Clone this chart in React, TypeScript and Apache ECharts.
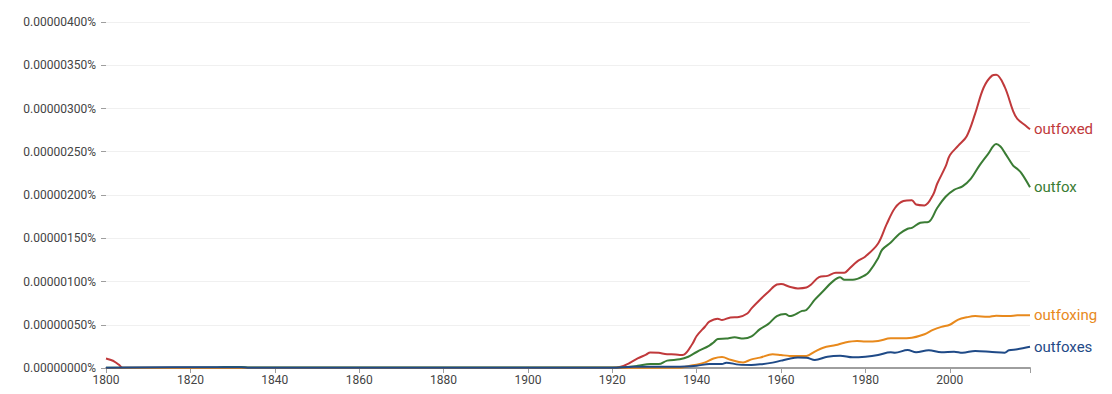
import React, { useEffect, useRef } from "react";
import * as echarts from "echarts";

// values in units of 0.0000001 %
const UNIT = 1e-7;
const xTickYears = [1800, 1820, 1840, 1860, 1880, 1900, 1920, 1940, 1960, 1980, 2000];

const outfoxedPts: [number, number][] = [
  [1800, 1.1], [1801, 0.95], [1802, 0.75], [1803, 0.4], [1804, 0.02], [1920, 0.02],
  [1922, 0.15], [1924, 0.55], [1926, 1.1], [1928, 1.55], [1929, 1.8], [1931, 1.75],
  [1933, 1.6], [1934, 1.6], [1936, 1.5], [1937, 1.55], [1939, 2.8], [1940, 3.7],
  [1942, 4.8], [1943, 5.35], [1945, 5.7], [1946, 5.55], [1948, 5.85], [1950, 5.9],
  [1952, 6.3], [1953, 6.9], [1955, 7.9], [1957, 8.8], [1959, 9.65], [1960, 9.7],
  [1962, 9.4], [1964, 9.2], [1966, 9.3], [1967, 9.6], [1969, 10.5], [1971, 10.65],
  [1973, 11.0], [1975, 11.0], [1976, 11.4], [1978, 12.3], [1980, 12.9], [1983, 14.4],
  [1985, 16.6], [1987, 18.5], [1989, 19.3], [1991, 19.4], [1992, 18.9], [1994, 18.8],
  [1996, 20.0], [1997, 21.3], [1999, 23.3], [2000, 24.6], [2002, 25.7], [2004, 26.8],
  [2006, 29.4], [2008, 32.4], [2010, 33.8], [2011, 33.9], [2013, 32.5], [2015, 29.7],
  [2016, 28.8], [2018, 28.0], [2019, 27.6],
];

const outfoxPts: [number, number][] = [
  [1800, 0.02], [1826, 0.05], [1828, 0.12], [1832, 0.12], [1834, 0.05], [1920, 0.05],
  [1923, 0.1], [1926, 0.25], [1929, 0.45], [1931, 0.45], [1933, 0.85], [1936, 1.0],
  [1938, 1.3], [1940, 1.85], [1943, 2.6], [1944, 2.95], [1945, 3.35], [1947, 3.4],
  [1949, 3.55], [1951, 3.4], [1953, 3.65], [1955, 4.5], [1957, 5.1], [1959, 6.0],
  [1961, 6.25], [1962, 6.0], [1965, 6.6], [1966, 6.7], [1968, 7.9], [1970, 8.9],
  [1972, 9.9], [1974, 10.5], [1975, 10.2], [1977, 10.2], [1980, 10.75], [1981, 11.2],
  [1983, 12.7], [1984, 13.7], [1986, 14.5], [1988, 15.5], [1990, 16.1], [1991, 16.2],
  [1993, 16.8], [1995, 16.9], [1997, 18.5], [1999, 19.8], [2001, 20.6], [2003, 21.0],
  [2005, 21.9], [2007, 23.4], [2009, 24.7], [2011, 25.9], [2012, 25.6], [2013, 24.9],
  [2015, 23.4], [2016, 23.0], [2017, 22.5], [2019, 20.9],
];

const outfoxingPts: [number, number][] = [
  [1800, 0.0], [1936, 0.02], [1938, 0.2], [1942, 0.65], [1944, 1.1], [1946, 1.27],
  [1948, 0.95], [1950, 0.7], [1951, 0.65], [1953, 1.0], [1955, 1.2], [1958, 1.6],
  [1960, 1.5], [1962, 1.4], [1964, 1.39], [1966, 1.4], [1968, 1.9], [1970, 2.35],
  [1973, 2.65], [1975, 2.93], [1978, 3.12], [1980, 3.05], [1983, 3.12], [1986, 3.43],
  [1988, 3.43], [1991, 3.5], [1994, 3.9], [1996, 4.4], [1998, 4.75], [2000, 5.0],
  [2002, 5.6], [2004, 5.86], [2006, 6.0], [2009, 5.93], [2011, 6.05], [2014, 6.0],
  [2016, 6.09], [2019, 6.1],
];

const outfoxesPts: [number, number][] = [
  [1800, 0.02], [1826, 0.1], [1832, 0.1], [1834, 0.03], [1920, 0.03], [1925, 0.15],
  [1935, 0.15], [1940, 0.27], [1943, 0.46], [1946, 0.46], [1947, 0.62], [1950, 0.39],
  [1953, 0.35], [1955, 0.42], [1958, 0.62], [1960, 0.85], [1962, 1.08], [1964, 1.2],
  [1966, 1.19], [1968, 0.92], [1971, 1.31], [1974, 1.42], [1977, 1.23], [1980, 1.31],
  [1983, 1.5], [1986, 1.81], [1987, 1.77], [1990, 2.08], [1992, 1.81], [1995, 2.05],
  [1998, 1.81], [2001, 1.89], [2003, 1.77], [2006, 1.97], [2010, 1.85], [2013, 1.77],
  [2014, 2.05], [2016, 2.16], [2019, 2.45],
];

const seriesNames = ["outfoxed", "outfox", "outfoxing", "outfoxes"];
const seriesColors = ["#c0393b", "#3a7c34", "#e8891c", "#1f4a87"];
const seriesPts = [outfoxedPts, outfoxPts, outfoxingPts, outfoxesPts];

export default function App() {
  const ref = useRef<HTMLDivElement>(null);
  useEffect(() => {
    if (!ref.current) return;
    const chart = echarts.init(ref.current, undefined, { renderer: "svg" });
    chart.setOption({
      animation: false,
      grid: { left: 98, right: 74, top: 14, bottom: 18 },
      xAxis: {
        type: "value",
        min: 1800,
        max: 2019,
        interval: 20,
        axisLine: { show: true, lineStyle: { color: "#9e9e9e", width: 2 } },
        axisTick: { show: true, length: 5, lineStyle: { color: "#9e9e9e", width: 1 } },
        axisLabel: {
          color: "#444",
          fontFamily: "Roboto",
          fontSize: 12,
          margin: 6,
          formatter: (v: number) => (xTickYears.includes(v) ? String(v) : ""),
        },
        splitLine: { show: false },
      },
      yAxis: {
        type: "value",
        min: 0,
        max: 40 * UNIT,
        interval: 5 * UNIT,
        axisLine: { show: false },
        axisTick: { show: true, length: 5, lineStyle: { color: "#9e9e9e" } },
        axisLabel: {
          color: "#444",
          fontFamily: "Roboto",
          fontSize: 12,
          margin: 10,
          formatter: (v: number) => v.toFixed(8) + "%",
        },
        splitLine: { show: true, lineStyle: { color: "#f0f0f0", width: 1 } },
      },
      series: seriesNames.map((name, i) => ({
        name,
        type: "line",
        showSymbol: false,
        smooth: 0.35,
        data: seriesPts[i].map(([y, v]) => [y, v * UNIT]),
        lineStyle: { color: seriesColors[i], width: 2 },
        itemStyle: { color: seriesColors[i] },
        endLabel: {
          show: true,
          formatter: "{a}",
          color: seriesColors[i],
          fontFamily: "Roboto",
          fontSize: 15,
          distance: 4,
        },
        z: 2 + i,
      })),
    });
    return () => chart.dispose();
  }, []);
  return <div ref={ref} style={{ width: 1096, height: 378 }} />;
}
